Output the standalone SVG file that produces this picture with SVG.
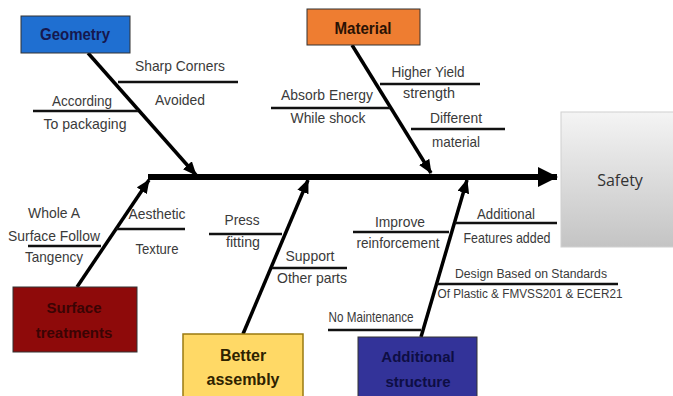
<svg xmlns="http://www.w3.org/2000/svg" width="673" height="396" viewBox="0 0 673 396">
<style>
.lbl{font-family:"Liberation Sans",Arial,sans-serif;font-size:15px;fill:#3a3a3a;text-anchor:middle}
.sm{font-size:12.5px}
.ttl{font-family:"Liberation Sans",Arial,sans-serif;font-size:15px;font-weight:bold;text-anchor:middle}
.bone{stroke:#000;stroke-width:3.5;fill:none;marker-end:url(#ah)}
.sub{stroke:#111;stroke-width:2.5}
.box{stroke:#333;stroke-width:1}
</style>
<defs>
<marker id="ah" markerUnits="userSpaceOnUse" markerWidth="14" markerHeight="12" refX="13" refY="6" orient="auto">
<path d="M0,0 L14,6 L0,12 z" fill="#000"/>
</marker>
<marker id="ahBig" markerUnits="userSpaceOnUse" markerWidth="20" markerHeight="20" refX="19" refY="10" orient="auto">
<path d="M0,0 L20,10 L0,20 z" fill="#000"/>
</marker>
<linearGradient id="gSafe" x1="0" y1="0" x2="0" y2="1">
<stop offset="0" stop-color="#f4f4f4"/>
<stop offset="1" stop-color="#c4c4c4"/>
</linearGradient>
</defs>

<g id="connectors">
<line x1="148" y1="177" x2="557" y2="177" stroke="#000" stroke-width="6" marker-end="url(#ahBig)"/>
<line class="bone" x1="88" y1="53" x2="196" y2="175"/>
<line class="bone" x1="352" y1="45" x2="431" y2="173"/>
<line class="bone" x1="77" y1="287" x2="149" y2="180"/>
<line class="bone" x1="243" y1="334" x2="308" y2="180"/>
<line class="bone" x1="421" y1="337" x2="467" y2="180"/>
</g>

<g id="node-geometry">
<rect class="box" x="21" y="16" width="109" height="37" fill="#1f6fd1"/>
<text class="ttl" x="75" y="40" fill="#16184e" textLength="70" lengthAdjust="spacingAndGlyphs" style="font-size:16px">Geometry</text>
</g>
<g id="node-material">
<rect class="box" x="307" y="9" width="113" height="36" fill="#ee7d31"/>
<text class="ttl" x="363" y="34" fill="#2a1204" textLength="57" lengthAdjust="spacingAndGlyphs" style="font-size:16px">Material</text>
</g>
<g id="node-surface">
<rect class="box" x="13" y="287" width="124" height="65" fill="#8e0a0a"/>
<text class="ttl" x="74" y="313" fill="#3a0404">Surface</text>
<text class="ttl" x="74" y="338" fill="#3a0404">treatments</text>
</g>
<g id="node-assembly">
<rect x="183" y="334" width="120" height="66" fill="#ffd966" stroke="#9a7a10" stroke-width="1.5"/>
<text class="ttl" x="243" y="361" fill="#2e2200" style="font-size:16px">Better</text>
<text class="ttl" x="243" y="385" fill="#2e2200" style="font-size:16px">assembly</text>
</g>
<g id="node-structure">
<rect class="box" x="358" y="337" width="119" height="63" fill="#333399"/>
<text class="ttl" x="418" y="362" fill="#0e0e44">Additional</text>
<text class="ttl" x="418" y="387" fill="#0e0e44">structure</text>
</g>
<g id="node-safety">
<rect x="561" y="112" width="120" height="135" fill="url(#gSafe)" stroke="#d0d0d0" stroke-width="1"/>
<text x="620" y="186" style="font-family:'Open Sans','Liberation Sans',sans-serif;font-size:16px;fill:#333;text-anchor:middle">Safety</text>
</g>

<g id="cause-sharp-corners">
<line class="sub" x1="118" y1="82" x2="238" y2="82"/>
<text class="lbl" x="180" y="71" textLength="90" lengthAdjust="spacingAndGlyphs">Sharp Corners</text>
<text class="lbl" x="180" y="105" textLength="50" lengthAdjust="spacingAndGlyphs">Avoided</text>
</g>
<g id="cause-packaging">
<line class="sub" x1="33" y1="111" x2="138" y2="111"/>
<text class="lbl" x="82" y="106" textLength="60" lengthAdjust="spacingAndGlyphs">According</text>
<text class="lbl" x="85" y="129" textLength="83" lengthAdjust="spacingAndGlyphs">To packaging</text>
</g>
<g id="cause-yield">
<line class="sub" x1="380" y1="84" x2="480" y2="84"/>
<text class="lbl" x="428" y="77" textLength="73" lengthAdjust="spacingAndGlyphs">Higher Yield</text>
<text class="lbl" x="429" y="98" textLength="52" lengthAdjust="spacingAndGlyphs">strength</text>
</g>
<g id="cause-absorb">
<line class="sub" x1="271" y1="108" x2="390" y2="108"/>
<text class="lbl" x="327" y="100" textLength="92" lengthAdjust="spacingAndGlyphs">Absorb Energy</text>
<text class="lbl" x="328" y="123" textLength="75" lengthAdjust="spacingAndGlyphs">While shock</text>
</g>
<g id="cause-different">
<line class="sub" x1="411" y1="129" x2="505" y2="129"/>
<text class="lbl" x="456" y="123" textLength="52" lengthAdjust="spacingAndGlyphs">Different</text>
<text class="lbl" x="456" y="147" textLength="48" lengthAdjust="spacingAndGlyphs">material</text>
</g>
<g id="cause-tangency">
<line class="sub" x1="28" y1="246" x2="101" y2="246"/>
<text class="lbl" x="54" y="218" textLength="52" lengthAdjust="spacingAndGlyphs">Whole A</text>
<text class="lbl" x="54" y="241" textLength="92" lengthAdjust="spacingAndGlyphs">Surface Follow</text>
<text class="lbl" x="54" y="262" textLength="58" lengthAdjust="spacingAndGlyphs">Tangency</text>
</g>
<g id="cause-aesthetic">
<line class="sub" x1="116" y1="229" x2="185" y2="229"/>
<text class="lbl" x="157" y="219" textLength="57" lengthAdjust="spacingAndGlyphs">Aesthetic</text>
<text class="lbl" x="157" y="254" textLength="43" lengthAdjust="spacingAndGlyphs">Texture</text>
</g>
<g id="cause-press">
<line class="sub" x1="209" y1="234" x2="282" y2="234"/>
<text class="lbl" x="242" y="225" textLength="35" lengthAdjust="spacingAndGlyphs">Press</text>
<text class="lbl" x="243" y="247" textLength="34" lengthAdjust="spacingAndGlyphs">fitting</text>
</g>
<g id="cause-support">
<line class="sub" x1="272" y1="268" x2="347" y2="268"/>
<text class="lbl" x="310" y="261" textLength="49" lengthAdjust="spacingAndGlyphs">Support</text>
<text class="lbl" x="312" y="283" textLength="70" lengthAdjust="spacingAndGlyphs">Other parts</text>
</g>
<g id="cause-maintenance">
<line class="sub" x1="328" y1="330" x2="421" y2="330"/>
<text class="lbl" x="371" y="322" textLength="85" lengthAdjust="spacingAndGlyphs">No Maintenance</text>
</g>
<g id="cause-reinforcement">
<line class="sub" x1="353" y1="232" x2="449" y2="232"/>
<text class="lbl" x="400" y="227" textLength="50" lengthAdjust="spacingAndGlyphs">Improve</text>
<text class="lbl" x="398" y="248" textLength="83" lengthAdjust="spacingAndGlyphs">reinforcement</text>
</g>
<g id="cause-features">
<line class="sub" x1="455" y1="223" x2="557" y2="223"/>
<text class="lbl" x="506" y="219" textLength="58" lengthAdjust="spacingAndGlyphs">Additional</text>
<text class="lbl" x="507" y="243" textLength="87" lengthAdjust="spacingAndGlyphs">Features added</text>
</g>
<g id="cause-standards">
<line class="sub" x1="437" y1="284" x2="618" y2="284"/>
<text class="lbl sm" x="531" y="278" textLength="152" lengthAdjust="spacingAndGlyphs">Design Based on Standards</text>
<text class="lbl sm" x="530" y="298" textLength="185" lengthAdjust="spacingAndGlyphs">Of Plastic &amp; FMVSS201 &amp; ECER21</text>
</g>
</svg>
